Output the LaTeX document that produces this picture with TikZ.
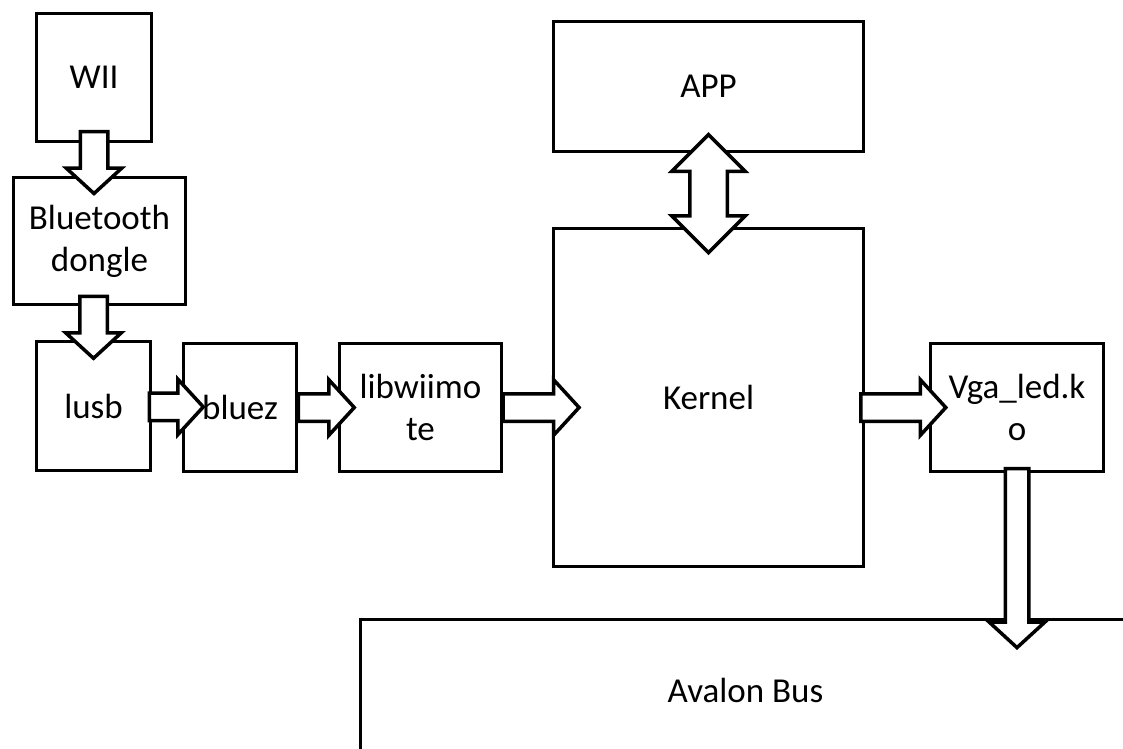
\documentclass[tikz,border=0pt]{standalone}
\usepackage{fontspec}
\setmainfont{Carlito}
\usepackage{tikz}
\usetikzlibrary{shapes.arrows, calc}

\begin{document}
\begin{tikzpicture}[x=1pt, y=-1pt,
                module/.style={rectangle, draw, line width=3.5pt, inner sep=0pt, align=center, font=\fontsize{35}{42}\selectfont},
                pipe/.style={single arrow, draw, fill=white, line width=3.5pt, inner sep=12pt, single arrow head extend=14pt, single arrow tip angle=95, minimum height=#1},
                twoway/.style={double arrow, draw, fill=white, line width=3.5pt, inner sep=17pt, double arrow head extend=18pt, double arrow tip angle=90, minimum height=#1}
            ]
                \path[use as bounding box, clip] (0,0) rectangle (1123,748);

                % Nodes
                \node[module, minimum width=115pt, minimum height=128pt] (wii) at (94,77.5) {WII};
                \node[module, minimum width=172pt, minimum height=127pt] (bt) at (99.5,241) {Bluetooth\\dongle};
                \node[module, minimum width=114pt, minimum height=129pt] (usb) at (93.5,406) {lusb};
                \node[module, minimum width=113pt, minimum height=128pt] (bluez) at (240,407.5) {bluez};
                \node[module, minimum width=162pt, minimum height=128pt] (lib) at (420.5,407.5) {libwiimo\\te};
                \node[module, minimum width=310pt, minimum height=338pt] (kernel) at (708.5,397.5) {Kernel};
                \node[module, minimum width=310pt, minimum height=130pt] (app) at (708.5,86.5) {APP};
                \node[module, minimum width=173pt, minimum height=128pt] (vga) at (1017,407.5) {Vga\_led.k\\o};
                \node[module, minimum width=770pt, minimum height=141pt] (bus) at (745.5,690) {Avalon Bus};

                % Paths: block arrows
                \node[pipe=62, rotate=-90] (a1) at ($(wii.south)!0.4!(wii.south|-bt.north)$) {};
                \node[pipe=62, rotate=-90] (a2) at ($(usb.north|-bt.south)!0.44!(usb.north)$) {};
                \node[pipe=54] (a3) at ($(usb.east)!0.6!(bluez.west)$) {};
                \node[pipe=56] (a4) at ($(bluez.east)!0.55!(lib.west)$) {};
                \node[pipe=76] (a5) at ($(lib.east)!0.65!(kernel.west|-lib.east)$) {};
                \node[pipe=85] (a6) at ($(kernel.east|-vga.west)!0.5!(vga.west)$) {};
                \node[pipe=179, rotate=-90, inner sep=10pt, single arrow head extend=16pt] (a7) at ($(vga.south)!0.55!(vga.south|-bus.north)$) {};

                % Paths: APP <-> Kernel
                \node[twoway=118, rotate=90] (a8) at ($(app.south)!0.55!(kernel.north)$) {};
            \end{tikzpicture}
\end{document}
